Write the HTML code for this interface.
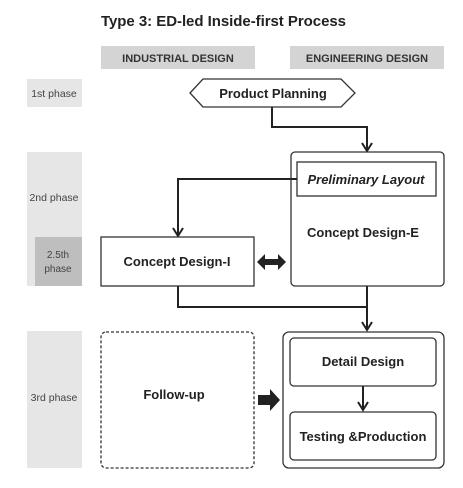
<!DOCTYPE html>
<html><head><style>
body{margin:0;width:463px;height:483px;background:#fff;font-family:"Liberation Sans",sans-serif;}
</style></head><body>
<svg width="463" height="483" xmlns="http://www.w3.org/2000/svg" font-family="Liberation Sans, sans-serif">
<text x="101" y="26" font-size="15" font-weight="bold" fill="#222" textLength="245">Type 3: ED-led Inside-first Process</text>
<rect x="101" y="46" width="154" height="23" fill="#d4d4d4"/>
<rect x="290" y="46" width="154" height="23" fill="#d4d4d4"/>
<text x="178" y="62" font-size="11" font-weight="bold" text-anchor="middle" fill="#333">INDUSTRIAL DESIGN</text>
<text x="367" y="62" font-size="11" font-weight="bold" text-anchor="middle" fill="#333">ENGINEERING DESIGN</text>
<rect x="27" y="79" width="55" height="28" fill="#e6e6e7"/>
<text x="54" y="97" font-size="10.5" text-anchor="middle" fill="#444">1st phase</text>
<rect x="27" y="152" width="55" height="134" fill="#e6e6e7"/>
<rect x="35" y="237" width="47" height="49" fill="#bebebf"/>
<text x="54" y="201" font-size="10.5" text-anchor="middle" fill="#444">2nd phase</text>
<text x="58" y="258" font-size="10" text-anchor="middle" fill="#444">2.5th</text>
<text x="58" y="272" font-size="10" text-anchor="middle" fill="#444">phase</text>
<rect x="27" y="331" width="55" height="137" fill="#e6e6e7"/>
<text x="54" y="401" font-size="10.5" text-anchor="middle" fill="#444">3rd phase</text>
<polygon points="190,93 203,79 341,79 355,93 341,107 203,107" fill="#fff" stroke="#333" stroke-width="1.3"/>
<text x="273" y="98" font-size="13" font-weight="bold" text-anchor="middle" fill="#222">Product Planning</text>
<g fill="none" stroke="#222" stroke-width="2">
<polyline points="272,107 272,127 367,127 367,151"/>
<polyline points="362,143 367,151 372,143"/>
<polyline points="297,179 178,179 178,236"/>
<polyline points="173,228 178,236 183,228"/>
<polyline points="178,286 178,307 367,307"/>
<polyline points="367,286 367,330"/>
<polyline points="362,322 367,330 372,322"/>
<polyline points="363,386 363,410"/>
<polyline points="358,402 363,410 368,402"/>
</g>
<rect x="291" y="152" width="153" height="134" rx="4" fill="#fff" stroke="#333" stroke-width="1.3"/>
<rect x="297" y="162" width="139" height="34" fill="#fff" stroke="#333" stroke-width="1.3"/>
<text x="366" y="184" font-size="13" font-weight="bold" font-style="italic" text-anchor="middle" fill="#222">Preliminary Layout</text>
<text x="363" y="237" font-size="13" font-weight="bold" text-anchor="middle" fill="#222">Concept Design-E</text>
<polyline points="297,179 291,179" fill="none" stroke="#222" stroke-width="2"/>
<rect x="101" y="237" width="153" height="49" fill="#fff" stroke="#333" stroke-width="1.3"/>
<text x="177" y="266" font-size="13" font-weight="bold" text-anchor="middle" fill="#222">Concept Design-I</text>
<polygon points="257,262 265,254 265,259 278,259 278,254 286,262 278,270 278,265 265,265 265,270" fill="#222"/>
<rect x="101" y="332" width="153" height="136" rx="5" fill="#fff" stroke="#333" stroke-width="1.3" stroke-dasharray="3,2"/>
<text x="174" y="399" font-size="13" font-weight="bold" text-anchor="middle" fill="#222">Follow-up</text>
<polygon points="258,395 270,395 270,389 280,400 270,411 270,405 258,405" fill="#222"/>
<rect x="283" y="332" width="161" height="136" rx="6" fill="#fff" stroke="#333" stroke-width="1.3"/>
<rect x="290" y="338" width="146" height="48" rx="4" fill="#fff" stroke="#333" stroke-width="1.3"/>
<text x="363" y="366" font-size="13" font-weight="bold" text-anchor="middle" fill="#222">Detail Design</text>
<polyline points="363,386 363,410" fill="none" stroke="#222" stroke-width="2"/>
<polyline points="358,402 363,410 368,402" fill="none" stroke="#222" stroke-width="2"/>
<rect x="290" y="412" width="146" height="48" rx="4" fill="#fff" stroke="#333" stroke-width="1.3"/>
<text x="363" y="441" font-size="13" font-weight="bold" text-anchor="middle" fill="#222">Testing &amp;Production</text>
</svg>
</body></html>
